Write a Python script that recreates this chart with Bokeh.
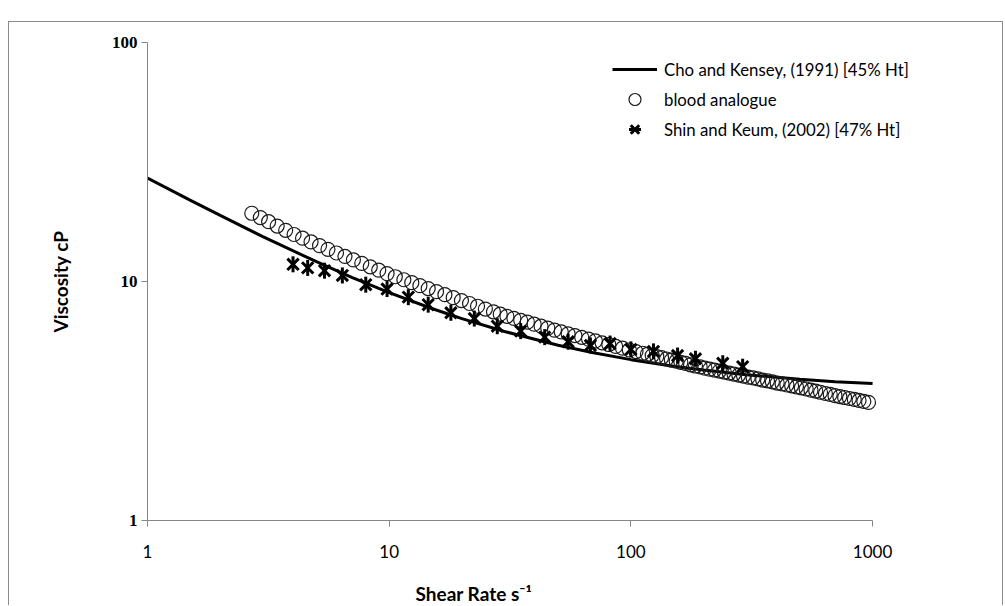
from bokeh.plotting import figure
from bokeh.models import FixedTicker, Range1d, Legend, LegendItem, Title
from bokeh.embed import file_html
from bokeh.resources import INLINE
import math

# ---- data ----
x_ticks = [1, 10, 100, 1000]
y_ticks = [1, 10, 100]

cho_x = [1, 1.5, 2, 3, 5, 7, 10, 15, 20, 30, 50, 70, 100, 150, 200, 300, 500, 700, 1000]
cho_y = [27.1, 21.9, 18.9, 15.4, 12.1, 10.4, 8.98, 7.71, 6.99, 6.18, 5.41, 5.03,
         4.71, 4.42, 4.26, 4.07, 3.90, 3.81, 3.74]

blood_x = [2.7, 2.93, 3.17, 3.44, 3.73, 4.04, 4.38, 4.75, 5.15, 5.58, 6.05, 6.56,
           7.11, 7.7, 8.35, 9.05, 9.8, 10.6, 11.5, 12.4, 13.4, 14.5, 15.7, 17.0,
           18.4, 19.9, 21.5, 23.2, 25.0, 27.0, 28.8, 30.7, 32.8, 35.0, 37.3, 39.8,
           42.5, 45.3, 48.3, 51.5, 55, 58.7, 62.6, 66.8, 71.3, 76, 81, 86.5, 92.3,
           98.5, 105, 112, 117, 122.5, 128, 134, 140.5, 147, 154, 161, 168.5,
           176.5, 185, 193.5, 202.5, 212, 222, 232.5, 243.5, 255, 267, 279.5,
           292.5, 306, 320.5, 335.5, 351, 367.5, 385, 403, 422, 442, 462.5, 484,
           507, 531, 556, 582, 609, 638, 668, 699, 732, 766, 802, 840, 879, 920, 962]
blood_y = [19.3, 18.51, 17.79, 17.06, 16.37, 15.73, 15.18, 14.64, 14.13, 13.63,
           13.16, 12.73, 12.31, 11.91, 11.52, 11.15, 10.79, 10.47, 10.17, 9.89,
           9.61, 9.34, 9.07, 8.81, 8.56, 8.32, 8.09, 7.88, 7.67, 7.47, 7.30, 7.15,
           7.01, 6.88, 6.76, 6.63, 6.50, 6.38, 6.26, 6.15, 6.04, 5.94, 5.84, 5.74,
           5.64, 5.54, 5.45, 5.35, 5.26, 5.17, 5.09, 5.01, 4.96, 4.90, 4.85, 4.80,
           4.74, 4.69, 4.64, 4.59, 4.54, 4.48, 4.43, 4.39, 4.34, 4.30, 4.26, 4.22,
           4.18, 4.14, 4.10, 4.06, 4.02, 3.98, 3.95, 3.91, 3.87, 3.84, 3.80, 3.76,
           3.73, 3.69, 3.66, 3.62, 3.59, 3.55, 3.51, 3.48, 3.44, 3.40, 3.37, 3.33,
           3.30, 3.27, 3.24, 3.21, 3.18, 3.15, 3.12]

shin_x = [4.0, 4.6, 5.4, 6.4, 8.0, 9.8, 12.0, 14.5, 18.0, 22.5, 28, 35, 44, 55,
          68, 82, 100, 124, 156, 185, 240, 290]
shin_y = [11.8, 11.4, 11.1, 10.6, 9.7, 9.3, 8.6, 8.0, 7.4, 7.0, 6.5, 6.2, 5.85,
          5.6, 5.4, 5.5, 5.2, 5.1, 4.9, 4.75, 4.55, 4.4]

labels = ["Cho and Kensey, (1991) [45% Ht]", "blood analogue",
          "Shin and Keum, (2002) [47% Ht]"]
x_title = "Shear Rate s\u207b\u00b9"
y_title = "Viscosity cP"

FONT = "Lato"

# frame: x=1 at 147px, one decade = 241.7px; right end of frame = page edge
p = figure(width=995, height=584, x_axis_type="log", y_axis_type="log",
           x_range=Range1d(1, 3514), y_range=Range1d(1, 100),
           output_backend="svg", toolbar_location=None,
           min_border_left=138, min_border_right=0,
           min_border_top=20, min_border_bottom=85)
p.margin = (21, 0, 0, 8)
p.styles = {"border-left": "1px solid #8c8c8c", "border-top": "1px solid #8c8c8c",
            "border-right": "1px solid #8c8c8c"}
p.outline_line_color = None
p.xgrid.visible = False
p.ygrid.visible = False
p.background_fill_color = "white"
p.border_fill_color = "white"

for ax, ticks in ((p.xaxis[0], x_ticks), (p.yaxis[0], y_ticks)):
    ax.ticker = FixedTicker(ticks=ticks, minor_ticks=[])
    ax.major_label_overrides = {t: str(t) for t in ticks}
    ax.axis_line_color = "#868686"
    ax.major_tick_line_color = "#868686"
    ax.major_tick_in = 0
    ax.major_tick_out = 6
    ax.minor_tick_line_color = None
    ax.major_label_text_color = "black"
p.xaxis.bounds = (1, 1000)

p.xaxis.major_label_text_font = FONT
p.xaxis.major_label_text_font_size = "17px"
p.xaxis.major_label_standoff = 18
p.yaxis.major_label_text_font = "Liberation Serif"
p.yaxis.major_label_text_font_style = "bold"
p.yaxis.major_label_text_font_size = "17px"
p.yaxis.major_label_standoff = 4

p.yaxis.axis_label = y_title
p.yaxis.axis_label_text_font = FONT
p.yaxis.axis_label_text_font_style = "bold"
p.yaxis.axis_label_text_font_size = "19px"
p.yaxis.axis_label_text_color = "black"
p.yaxis.axis_label_standoff = 37

r_line = p.line(cho_x, cho_y, line_color="black", line_width=3)
r_circ = p.scatter(blood_x, blood_y, marker="circle", size=14, fill_color=None,
                   line_color="#1a1a1a", line_width=1.2)
r_x = p.scatter(shin_x, shin_y, marker="x", size=16, line_color="black",
                line_width=3)
r_v = p.scatter(shin_x, shin_y, marker="dash", angle=math.pi / 2, size=16,
                line_color="black", line_width=3)

legend = Legend(items=[LegendItem(label=labels[0], renderers=[r_line]),
                       LegendItem(label=labels[1], renderers=[r_circ]),
                       LegendItem(label=labels[2], renderers=[r_x, r_v])],
                location=(465, 376))
legend.border_line_color = None
legend.background_fill_alpha = 0
legend.padding = 0
legend.margin = 0
legend.spacing = 0
legend.glyph_width = 45
legend.glyph_height = 30
legend.label_height = 30
legend.label_standoff = 7
legend.label_text_font = FONT
legend.label_text_font_size = "16.8px"
legend.label_text_color = "black"
p.add_layout(legend)

# spacer between tick labels and the axis title
spacer = Title(text=" ", text_font_size="1px", standoff=14)
p.add_layout(spacer, "below")
xt = Title(text=x_title, align="left", offset=268, text_font=FONT,
           text_font_style="bold", text_font_size="19px", text_color="black",
           standoff=4)
p.add_layout(xt, "below")

open("out.html", "w").write(file_html(p, INLINE))
